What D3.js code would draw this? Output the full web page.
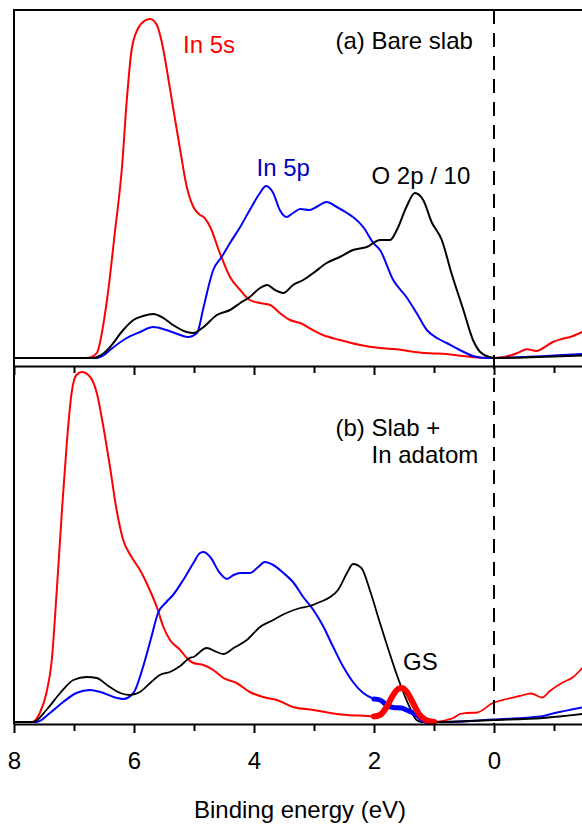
<!DOCTYPE html>
<html>
<head>
<meta charset="utf-8">
<script src="https://cdn.jsdelivr.net/npm/d3@7"></script>
<style>
  body { margin: 0; background: #fff; }
  svg { display: block; font-family: "Liberation Sans", Arial, sans-serif; }
</style>
</head>
<body>
<svg id="chart" width="582" height="824"></svg>
<script>
const width = 582, height = 824;

// tick values / labels of the energy axis
const majorTicks = [8, 6, 4, 2, 0];
const minorTicks = [7, 5, 3, 1, -1];

// (a) bare slab: [binding energy (eV), DOS (arb. units)]
const bareIn5s = [[8,0],[6.8,0],[6.73,0.05],[6.62,0.5],[6.45,5.8],[6.32,12.5],[6.2,19.1],[6.12,25.8],[6.04,30.8],[5.93,33.0],[5.83,33.7],[5.73,33.9],[5.62,33.3],[5.51,30.8],[5.46,29.1],[5.35,25.1],[5.23,20.8],[5.12,17.1],[5.01,15.1],[4.9,14.3],[4.84,14.1],[4.73,13.1],[4.57,10.5],[4.4,8.1],[4.23,6.8],[4.07,5.8],[3.9,5.5],[3.73,5.3],[3.57,4.5],[3.4,3.8],[3.23,3.5],[3.02,2.8],[2.85,2.3],[2.57,1.8],[2.23,1.3],[1.9,1.0],[1.62,0.87],[1.35,0.63],[1.07,0.47],[0.79,0.4],[0.52,0.2],[0.23,0.02],[0,0],[-0.21,0.15],[-0.38,0.47],[-0.55,0.87],[-0.71,0.7],[-0.82,1.0],[-0.98,1.6],[-1.13,1.9],[-1.27,2.1],[-1.47,2.6]];
const bareIn5p = [[8,0],[6.62,0],[6.5,0.3],[6.4,0.8],[6.12,2.0],[5.9,2.6],[5.68,3.1],[5.46,2.8],[5.23,2.3],[5.1,2.1],[4.95,2.5],[4.84,5.1],[4.68,8.8],[4.54,10.1],[4.4,11.5],[4.23,13.1],[4.07,14.8],[3.9,16.5],[3.8,17.2],[3.68,16.5],[3.57,14.8],[3.46,14.1],[3.35,14.5],[3.23,14.9],[3.07,14.8],[2.96,15.1],[2.79,15.6],[2.62,15.1],[2.45,14.5],[2.35,14.1],[2.18,13.1],[2.01,11.5],[1.9,10.8],[1.68,7.8],[1.46,6.1],[1.29,4.5],[1.12,2.8],[0.95,2.0],[0.79,1.5],[0.57,0.8],[0.35,0.2],[0.18,0.02],[0,0],[-0.5,0.1],[-1.0,0.25],[-1.47,0.4]];
const bareO2p = [[8,0],[6.7,0],[6.5,0.5],[6.4,1.1],[6.18,2.8],[6.01,3.8],[5.85,4.2],[5.68,4.4],[5.51,4.0],[5.35,3.3],[5.12,2.6],[5.01,2.5],[4.84,3.1],[4.62,4.3],[4.4,4.8],[4.23,5.5],[4.07,6.1],[3.9,7.0],[3.78,7.3],[3.65,6.8],[3.51,6.5],[3.35,7.3],[3.18,7.8],[3.01,8.5],[2.79,9.5],[2.57,10.1],[2.35,10.8],[2.12,11.1],[1.9,11.8],[1.73,11.8],[1.62,12.8],[1.46,15.1],[1.32,16.5],[1.18,15.8],[1.04,13.6],[0.87,11.8],[0.71,8.5],[0.51,4.8],[0.35,1.8],[0.23,0.6],[0.07,0.1],[0,0],[-0.5,0.05],[-1.0,0.15],[-1.47,0.25]];

// (b) slab + In adatom
const adIn5s = [[8,0],[7.7,0],[7.57,0.9],[7.46,2.9],[7.37,6.2],[7.29,12.9],[7.2,21.2],[7.12,27.9],[7.04,32.9],[6.96,34.7],[6.87,35.0],[6.73,34.5],[6.62,32.9],[6.51,29.5],[6.4,25.5],[6.29,21.2],[6.18,18.2],[6.04,16.5],[5.9,15.2],[5.76,13.5],[5.62,11.5],[5.51,9.5],[5.4,8.2],[5.23,7.2],[5.12,6.4],[5.01,5.9],[4.84,5.7],[4.68,5.2],[4.51,4.4],[4.29,3.9],[4.07,3.0],[3.85,2.5],[3.62,2.2],[3.35,1.5],[3.01,1.2],[2.73,0.9],[2.45,0.7],[2.12,0.6],[2.0,0.55]];
const adIn5sAbove = [[1.0,0],[0.79,0.2],[0.68,0.4],[0.57,0.8],[0.45,0.9],[0.28,0.95],[0.02,1.9],[-0.21,2.3],[-0.43,2.6],[-0.62,2.85],[-0.8,2.45],[-0.93,3.1],[-1.13,3.9],[-1.32,4.5],[-1.47,5.4]];
const adIn5p = [[8,0],[7.62,0],[7.4,0.9],[7.18,2.0],[6.96,2.9],[6.73,3.2],[6.51,2.9],[6.34,2.5],[6.18,2.3],[6.01,2.9],[5.85,5.5],[5.71,8.5],[5.6,10.9],[5.46,12.0],[5.35,12.7],[5.18,14.2],[5.01,15.9],[4.9,16.9],[4.84,17.0],[4.73,16.5],[4.57,14.9],[4.45,14.3],[4.34,14.7],[4.23,14.9],[4.07,14.9],[3.93,15.5],[3.82,16.0],[3.68,15.7],[3.51,14.9],[3.35,14.0],[3.18,12.5],[3.01,11.2],[2.84,9.5],[2.68,7.5],[2.51,5.5],[2.35,4.0],[2.18,2.9],[2.0,2.3]];
const adIn5pAbove = [[1.0,0],[0.5,0.05],[0.02,0.25],[-0.77,0.55],[-0.98,0.85],[-1.47,1.45]];
const adO2p = [[8,0],[7.68,0],[7.46,1.2],[7.23,2.9],[7.01,4.2],[6.79,4.5],[6.62,4.4],[6.45,3.7],[6.23,2.9],[6.07,2.7],[5.9,3.0],[5.73,3.9],[5.57,4.7],[5.4,5.0],[5.23,5.6],[5.07,6.4],[5.01,6.5],[4.79,7.4],[4.62,7.0],[4.51,6.8],[4.34,7.4],[4.12,8.2],[3.9,9.5],[3.68,10.2],[3.46,10.9],[3.23,11.4],[3.07,11.6],[2.9,12.0],[2.73,12.5],[2.6,13.2],[2.45,14.9],[2.35,15.8],[2.21,15.4],[2.07,13.2],[1.9,9.9],[1.57,3.9],[1.4,1.4],[1.29,0.2],[1.2,0],[1.0,0],[0.02,0.2],[-0.82,0.4],[-1.47,0.8]];

// gap-state (GS) projections, drawn thick
const gsIn5s = [[2.0,0.55],[1.9,0.7],[1.8,1.4],[1.7,2.5],[1.6,3.3],[1.54,3.4],[1.45,3.0],[1.35,1.9],[1.25,0.8],[1.15,0.25],[1.05,0.05],[1.0,0]];
const gsIn5p = [[2.0,2.3],[1.9,2.2],[1.79,1.7],[1.68,1.45],[1.54,1.4],[1.46,1.2],[1.29,0.7],[1.18,0.2],[1.07,0],[1.0,0]];

const svg = d3.select("#chart");

const x = d3.scaleLinear().domain([8, -1.5]).range([14, 584]);
const yA = d3.scaleLinear().domain([0, 34]).range([358, 18]);
const yB = d3.scaleLinear().domain([0, 35]).range([722, 372]);

const topY = 10, midY = 366, botY = 724;

//draw one curve
function curve(data, y, color, w) {
  const line = d3.line().x(d => x(d[0])).y(d => y(d[1])).curve(d3.curveMonotoneX);
  svg.append("path").datum(data)
    .attr("d", line)
    .attr("fill", "none")
    .attr("stroke", color)
    .attr("stroke-width", w)
    .attr("stroke-linejoin", "round")
    .attr("stroke-linecap", "round");
}

// panel (a)
curve(bareIn5s, yA, "#ff0000", 2);
curve(bareIn5p, yA, "#0000ff", 2);
curve(bareO2p, yA, "#000", 2);

// panel (b)
curve(adIn5s, yB, "#ff0000", 2);
curve(adIn5sAbove, yB, "#ff0000", 1.8);
curve(adIn5p, yB, "#0000ff", 2);
curve(adIn5pAbove, yB, "#0000ff", 2);
curve(adO2p, yB, "#000", 1.8);
curve(gsIn5p, yB, "#0000ff", 5);
curve(gsIn5s, yB, "#ff0000", 6);

// Fermi level
svg.append("line")
  .attr("x1", x(0)).attr("x2", x(0))
  .attr("y1", topY).attr("y2", botY)
  .attr("stroke", "#000").attr("stroke-width", 2)
  .attr("stroke-dasharray", "14,9");

// frame
svg.append("line").attr("x1", 14).attr("x2", width).attr("y1", topY).attr("y2", topY)
  .attr("stroke", "#000").attr("stroke-width", 2);
svg.append("line").attr("x1", 14).attr("x2", 14).attr("y1", topY - 1).attr("y2", botY)
  .attr("stroke", "#000").attr("stroke-width", 2);

//energy axes, one between the panels and one at the bottom
function energyAxis(yPos, withLabels) {
  const g = svg.append("g").attr("transform", `translate(0,${yPos})`);
  g.call(d3.axisBottom(x).tickValues(majorTicks).tickSize(9).tickSizeOuter(0).tickPadding(19)
    .tickFormat(withLabels ? d3.format("d") : ""));
  const gm = svg.append("g").attr("transform", `translate(0,${yPos})`);
  gm.call(d3.axisBottom(x).tickValues(minorTicks).tickSize(7).tickSizeOuter(0).tickFormat(""));
  gm.select(".domain").remove();
  [g, gm].forEach(s => {
    s.selectAll("line").attr("stroke", "#000").attr("stroke-width", 2);
    s.select(".domain").attr("stroke", "#000").attr("stroke-width", 2);
    s.selectAll("text").attr("font-size", 24).attr("fill", "#000")
      .attr("font-family", "'Liberation Sans', Arial, sans-serif");
  });
}
energyAxis(midY, false);
energyAxis(botY, true);

svg.append("text").attr("x", 300).attr("y", 818).attr("text-anchor", "middle")
  .attr("font-size", 24).text("Binding energy (eV)");

// annotations
const notes = [
  { t: "In 5s", x: 183, y: 53, c: "#ff0000" },
  { t: "(a) Bare slab", x: 335.5, y: 48.5, c: "#000" },
  { t: "In 5p", x: 256.5, y: 176, c: "#0000c0" },
  { t: "O 2p / 10", x: 371.5, y: 184, c: "#000" },
  { t: "(b) Slab +", x: 335.5, y: 436, c: "#000" },
  { t: "In adatom", x: 371.5, y: 463, c: "#000" },
  { t: "GS", x: 403, y: 670, c: "#000" }
];
svg.selectAll("text.note").data(notes).join("text")
  .attr("class", "note")
  .attr("x", d => d.x).attr("y", d => d.y)
  .attr("font-size", 24).attr("fill", d => d.c)
  .text(d => d.t);
</script>
</body>
</html>
